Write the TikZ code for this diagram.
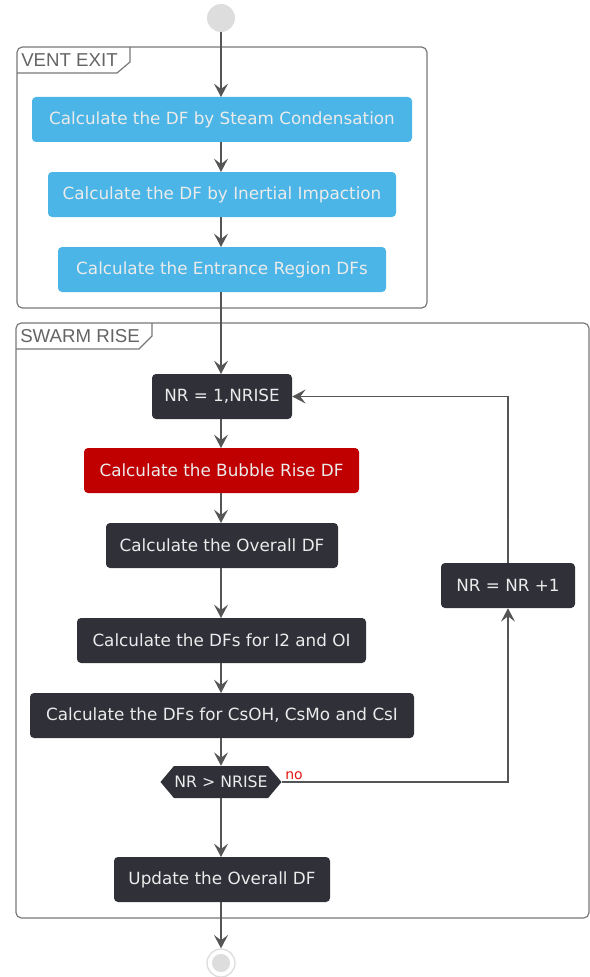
\documentclass[tikz,border=0pt]{standalone}
\usepackage{fontspec}
\setmainfont{DejaVu Sans}
\newfontfamily\lblfont{Liberation Sans}
\usetikzlibrary{arrows.meta,shapes.symbols}
\definecolor{bluefill}{RGB}{74,181,230}
\definecolor{darkfill}{RGB}{47,48,56}
\definecolor{redfill}{RGB}{192,0,0}
\definecolor{boxtext}{RGB}{235,235,235}
\definecolor{linegray}{RGB}{85,85,85}
\definecolor{framegray}{RGB}{120,120,120}
\definecolor{lblgray}{RGB}{100,100,100}
\definecolor{startgray}{RGB}{221,221,221}
\definecolor{notext}{RGB}{230,20,20}
\tikzset{
  boxbase/.style={rectangle, rounded corners=3pt, minimum height=33.75pt, inner sep=0pt,
    font=\fontsize{12.6}{15}\selectfont, text=boxtext},
  bluebox/.style={boxbase, fill=bluefill},
  darkbox/.style={boxbase, fill=darkfill},
  redbox/.style={boxbase, fill=redfill},
  flow/.style={draw=linegray, line width=1.1pt, -{Stealth[length=10pt,width=10.5pt,inset=4pt]}},
  frame/.style={draw=framegray, line width=0.9pt},
  framelbl/.style={font=\lblfont\fontsize{14}{16}\selectfont, text=lblgray, anchor=west, inner sep=0pt},
  hexnode/.style={signal, signal to=west and east, signal pointer angle=100, fill=darkfill,
    minimum width=90.75pt, minimum height=24pt, inner sep=0pt,
    font=\fontsize{11.8}{14}\selectfont, text=boxtext},
}
\begin{document}
\begin{tikzpicture}[x=0.75pt,y=-0.75pt]
\useasboundingbox (0,0) rectangle (589,977);

% frames
\draw[frame, rounded corners=4pt] (17,47) rectangle (427,308);
\draw[frame] (17,73) -- (117,73) -- (130,62) -- (130,47);
\node[framelbl] (lblvent) at (21,60) {VENT EXIT};

\draw[frame, rounded corners=4pt] (16,323) rectangle (589,918);
\draw[frame] (16,349) -- (139,349) -- (152,336) -- (152,323);
\node[framelbl] (lblswarm) at (20,336) {SWARM RISE};

% start
\node[circle, fill=startgray, minimum size=21pt, inner sep=0pt] (start) at (221,18) {};

% nodes
\node[bluebox, minimum width=285pt] (b1) at (222,119.5) {Calculate the DF by Steam Condensation};
\node[bluebox, minimum width=261pt] (b2) at (222,194.5) {Calculate the DF by Inertial Impaction};
\node[bluebox, minimum width=246pt] (b3) at (222,269.5) {Calculate the Entrance Region DFs};

\node[darkbox, minimum width=105pt] (nr1) at (222,396.5) {NR = 1,NRISE};
\node[redbox, minimum width=206.25pt] (bub) at (221.5,470.5) {Calculate the Bubble Rise DF};
\node[darkbox, minimum width=174pt] (ovr) at (222,545.5) {Calculate the Overall DF};
\node[darkbox, minimum width=100.5pt] (inc) at (508,585.5) {NR = NR +1};
\node[darkbox, minimum width=216.75pt] (i2) at (221.5,640.5) {Calculate the DFs for I2 and OI};
\node[darkbox, minimum width=288pt] (cs) at (222,715.5) {Calculate the DFs for CsOH, CsMo and CsI};
\node[hexnode] (hex) at (221,782) {NR > NRISE};
\node[darkbox, minimum width=162pt] (upd) at (222,879.5) {Update the Overall DF};

% end
\node[circle, draw=startgray, line width=1pt, fill=white, minimum size=21pt, inner sep=0pt] (end) at (221,963) {};
\fill[startgray] (end.center) circle (6.8pt);

% connectors
\draw[flow] (start.south) -- (221,97);
\draw[flow] (221,142) -- (221,172);
\draw[flow] (221,217) -- (221,247);
\draw[flow] (221,292) -- (221,374);
\draw[flow] (221,419) -- (221,448);
\draw[flow] (221,493) -- (221,523);
\draw[flow] (221,568) -- (221,618);
\draw[flow] (221,663) -- (221,693);
\draw[flow] (221,738) -- (hex.north);
\draw[flow] (hex.south) -- (221,857);
\draw[flow] (221,902) -- (end.north);

\coordinate (loopc) at (508,782);
\coordinate (loopt) at (508,396.5);
\draw[flow] (hex.east) -- (loopc) -- (inc.south);
\draw[flow] (inc.north) -- (loopt) -- (nr1.east);
\node[font=\fontsize{10.5}{12}\selectfont, text=notext, anchor=south west, inner sep=0pt] (no) at (285,780) {no};
\end{tikzpicture}
\end{document}
